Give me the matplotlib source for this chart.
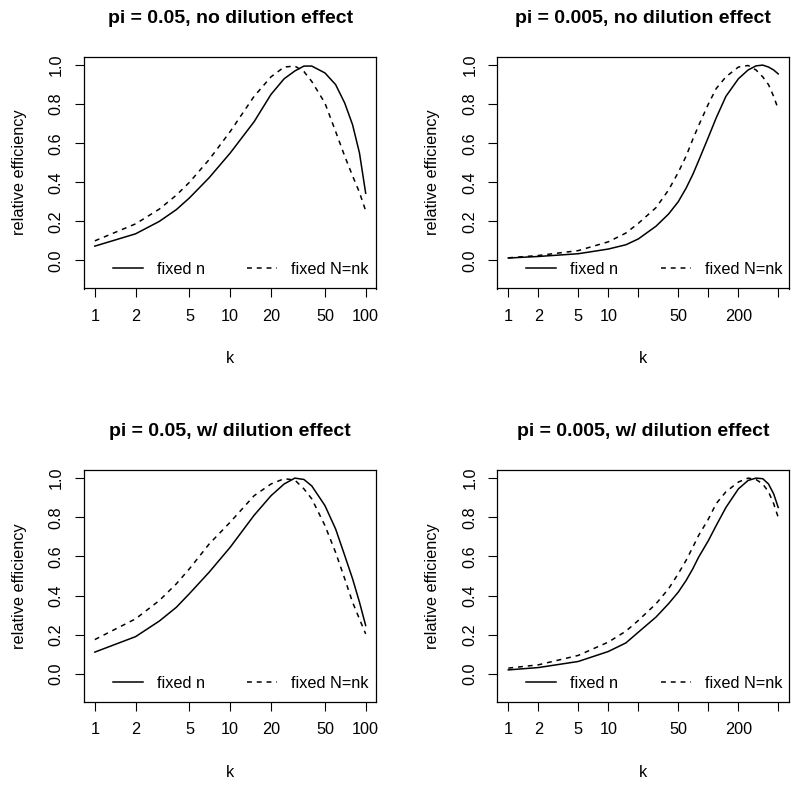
import numpy as np
import matplotlib
matplotlib.use("Agg")
import matplotlib.pyplot as plt
from matplotlib.ticker import FixedLocator, FixedFormatter, NullLocator

plt.rcParams['font.family'] = ['Liberation Sans', 'DejaVu Sans']

# k values (log scale)
k_small = [1, 2, 3, 4, 5, 7, 10, 15, 20, 25, 30, 35, 40, 50, 60, 70, 80, 90, 100]
k_large = [1, 2, 5, 10, 15, 20, 30, 40, 50, 60, 70, 80, 100, 120, 150, 200, 250, 300, 350, 400, 450, 500]

# pi = 0.05, no dilution effect
eff_a_n = [0.073, 0.136, 0.200, 0.260, 0.320, 0.424, 0.550, 0.710, 0.850, 0.930, 0.970, 0.995, 0.995,
           0.960, 0.900, 0.806, 0.695, 0.550, 0.344]
eff_a_N = [0.100, 0.187, 0.263, 0.334, 0.400, 0.517, 0.660, 0.840, 0.940, 0.990, 0.995, 0.967, 0.916,
           0.806, 0.660, 0.534, 0.433, 0.348, 0.254]

# pi = 0.005, no dilution effect
eff_b_n = [0.012, 0.020, 0.034, 0.058, 0.080, 0.110, 0.175, 0.237, 0.300, 0.370, 0.440, 0.510, 0.630,
           0.730, 0.840, 0.930, 0.975, 0.996, 1.000, 0.990, 0.975, 0.955]
eff_b_N = [0.013, 0.025, 0.050, 0.095, 0.140, 0.190, 0.270, 0.360, 0.450, 0.534, 0.620, 0.690, 0.800,
           0.880, 0.940, 0.990, 0.998, 0.975, 0.940, 0.900, 0.840, 0.775]

# pi = 0.05, w/ dilution effect
eff_c_n = [0.111, 0.190, 0.270, 0.340, 0.410, 0.520, 0.647, 0.810, 0.910, 0.970, 1.000, 0.993, 0.960,
           0.860, 0.740, 0.605, 0.486, 0.366, 0.247]
eff_c_N = [0.175, 0.281, 0.375, 0.460, 0.537, 0.664, 0.775, 0.910, 0.970, 0.997, 0.990, 0.945, 0.894,
           0.758, 0.620, 0.486, 0.366, 0.280, 0.204]

# pi = 0.005, w/ dilution effect
eff_d_n = [0.020, 0.032, 0.063, 0.114, 0.158, 0.213, 0.290, 0.358, 0.417, 0.477, 0.537, 0.596, 0.680,
           0.758, 0.850, 0.945, 0.988, 1.000, 0.997, 0.970, 0.920, 0.850]
eff_d_N = [0.029, 0.046, 0.094, 0.162, 0.218, 0.273, 0.358, 0.434, 0.511, 0.580, 0.647, 0.707, 0.790,
           0.870, 0.930, 0.980, 1.000, 0.993, 0.970, 0.930, 0.870, 0.800]

titles = ["pi = 0.05, no dilution effect", "pi = 0.005, no dilution effect",
          "pi = 0.05, w/ dilution effect", "pi = 0.005, w/ dilution effect"]

ticks_small = [1, 2, 5, 10, 20, 50, 100]
labels_small = ["1", "2", "5", "10", "20", "50", "100"]
ticks_large = [1, 2, 5, 10, 20, 50, 100, 200, 500]
labels_large = ["1", "2", "5", "10", "", "50", "", "200", ""]

W, H = 800, 787
fig = plt.figure(figsize=(W / 100, H / 100), dpi=100)

# axes boxes in pixels: left, top, right, bottom
boxes = [(84, 56.5, 376.5, 288.5), (497.5, 56.5, 789, 288.5),
         (84, 469.5, 376.5, 702), (497.5, 469.5, 789, 702)]

panels = [
    (k_small, eff_a_n, eff_a_N, ticks_small, labels_small, 100),
    (k_large, eff_b_n, eff_b_N, ticks_large, labels_large, 500),
    (k_small, eff_c_n, eff_c_N, ticks_small, labels_small, 100),
    (k_large, eff_d_n, eff_d_N, ticks_large, labels_large, 500),
]

fs = 11.7
for i, (k, yn, yN, ticks, labels, kmax) in enumerate(panels):
    l, t, r, b = boxes[i]
    ax = fig.add_axes([l / W, 1 - b / H, (r - l) / W, (b - t) / H])
    ax.plot(k, yn, color='black', lw=1.1, label='fixed n')
    ax.plot(k, yN, color='black', lw=1.1, dashes=(3.2, 3.2), label='fixed N=nk')
    ax.set_xscale('log')
    span = np.log10(kmax)
    ax.set_xlim(10 ** (-0.04 * span), 10 ** (1.04 * span))
    ax.set_ylim(-0.144, 1.044)
    ax.xaxis.set_major_locator(FixedLocator(ticks))
    ax.xaxis.set_major_formatter(FixedFormatter(labels))
    ax.xaxis.set_minor_locator(NullLocator())
    ax.set_yticks([0.0, 0.2, 0.4, 0.6, 0.8, 1.0])
    ax.set_yticklabels(["0.0", "0.2", "0.4", "0.6", "0.8", "1.0"], rotation=90, va='center')
    ax.tick_params(length=6.5, width=0.8, labelsize=fs, pad=8)
    for s in ax.spines.values():
        s.set_linewidth(0.9)
    ax.set_title(titles[i], fontsize=14, fontweight='bold', pad=24)
    ax.set_xlabel("k", fontsize=fs, labelpad=20)
    ax.set_ylabel("relative efficiency", fontsize=fs, labelpad=16)
    ax.legend(loc='lower left', bbox_to_anchor=(0.06, 0.0), ncol=2, frameon=False,
              fontsize=fs, handlelength=1.85, handletextpad=0.86, columnspacing=2.6,
              borderaxespad=0.3)

fig.savefig("out.png", dpi=100)
